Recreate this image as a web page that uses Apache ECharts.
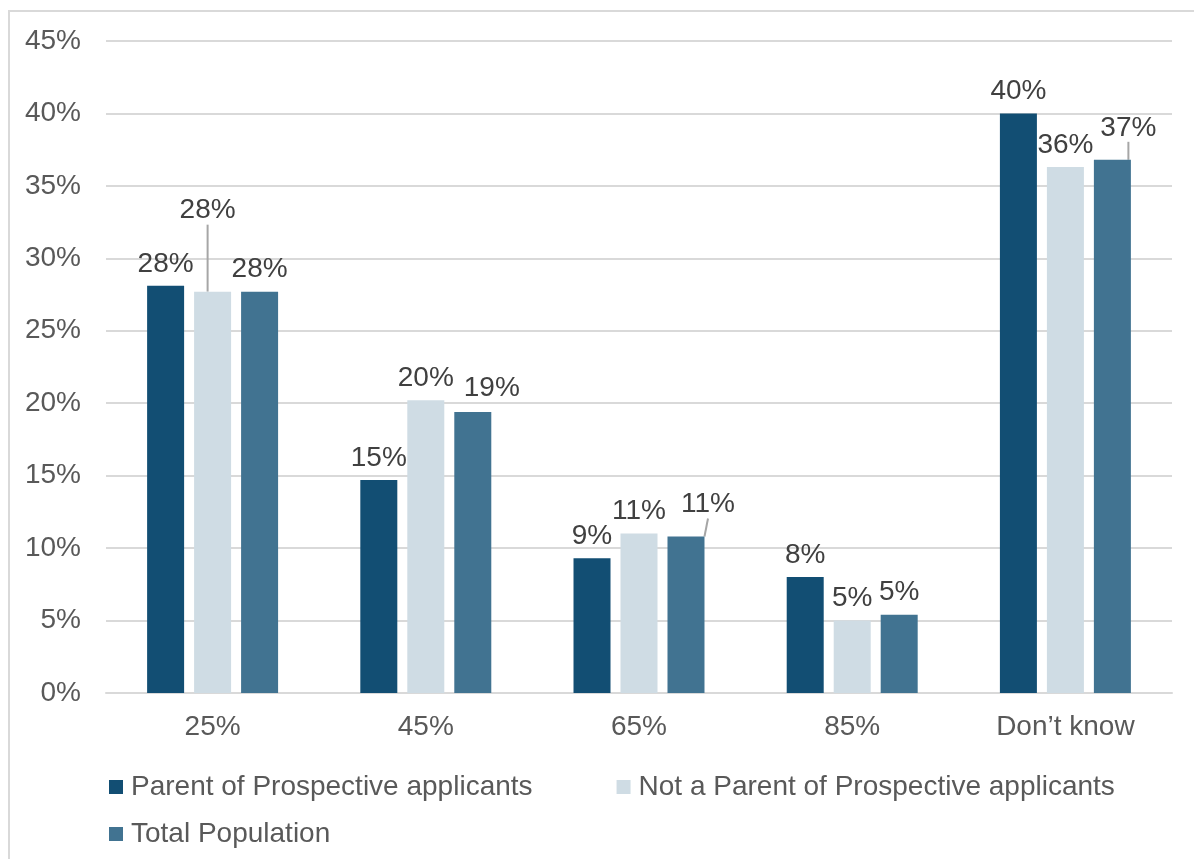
<!DOCTYPE html>
<html>
<head>
<meta charset="utf-8">
<script src="https://cdn.jsdelivr.net/npm/echarts@6/dist/echarts.min.js"></script>
<style>
  html, body { margin: 0; padding: 0; background: #fff; }
  #chart { width: 1194px; height: 859px; }
</style>
</head>
<body>
<div id="chart"></div>
<script>
const categories = ['25%', '45%', '65%', '85%', 'Don’t know']
const seriesNames = ['Parent of Prospective applicants', 'Not a Parent of Prospective applicants', 'Total Population']
const parentValues = [28.1, 14.7, 9.3, 8.0, 40.0]
const notParentValues = [27.7, 20.2, 11.0, 5.0, 36.3]
const totalValues = [27.7, 19.4, 10.8, 5.4, 36.8]
const yTicks = [0, 45, 5]

const colors = ['#124E73', '#CFDCE4', '#417391']
const font = '"Liberation Sans", Arial, sans-serif'

// labels that Excel pushed aside: [series, index, dx, dy, leader line]
const movedLabels = [
  [1, 0, -5, -59, true],
  [2, 1, 19, -2, false],
  [2, 2, 22, -10, true],
  [2, 4, 16, -10, true]
]

const chart = echarts.init(document.getElementById('chart'))

const buildData = (values, seriesIndex) => values.map((v, i) => {
  const m = movedLabels.find(x => x[0] === seriesIndex && x[1] === i)
  return m && m[4] ? { value: v, labelLine: { show: true } } : v
})

const option = {
  animation: false,
  textStyle: { fontFamily: font },
  graphic: [{
    type: 'rect',
    shape: { x: 9, y: 11, width: 1300, height: 1000 },
    style: { fill: 'none', stroke: '#D9D9D9', lineWidth: 2 },
    silent: true
  }],
  grid: { left: 106, top: 41, width: 1066, height: 652 },
  legend: [{
    data: seriesNames.slice(0, 2),
    left: 104,
    top: 768,
    itemWidth: 14,
    itemHeight: 14,
    itemGap: 84,
    icon: 'rect',
    textStyle: { fontSize: 28, color: '#595959', fontFamily: font, padding: [0, 0, 0, 3] }
  }, {
    data: seriesNames.slice(2),
    left: 104,
    top: 815,
    itemWidth: 14,
    itemHeight: 14,
    icon: 'rect',
    textStyle: { fontSize: 28, color: '#595959', fontFamily: font, padding: [0, 0, 0, 3] }
  }],
  xAxis: {
    type: 'category',
    data: categories,
    axisLine: { lineStyle: { color: '#D9D9D9', width: 2 } },
    axisTick: { show: false },
    axisLabel: { color: '#595959', fontSize: 28, fontFamily: font, margin: 20 }
  },
  yAxis: {
    type: 'value',
    min: yTicks[0],
    max: yTicks[1],
    interval: yTicks[2],
    axisLine: { show: false },
    axisTick: { show: false },
    splitLine: { lineStyle: { color: '#D9D9D9', width: 2 } },
    axisLabel: { color: '#595959', fontSize: 28, fontFamily: font, margin: 25, formatter: '{value}%' }
  },
  series: [parentValues, notParentValues, totalValues].map((values, s) => ({
    name: seriesNames[s],
    type: 'bar',
    barWidth: 37,
    barGap: '27%',
    data: buildData(values, s),
    itemStyle: { color: colors[s] },
    label: {
      show: true,
      position: 'top',
      distance: 8,
      fontSize: 28,
      color: '#404040',
      fontFamily: font,
      formatter: p => Math.round(p.value) + '%'
    },
    labelLine: { show: false, lineStyle: { color: '#A6A6A6', width: 2 } },
    labelLayout: params => {
      const m = movedLabels.find(x => x[0] === params.seriesIndex && x[1] === params.dataIndex)
      return m ? { dx: m[2], dy: m[3] } : {}
    }
  }))
}

chart.setOption(option)
</script>
</body>
</html>
